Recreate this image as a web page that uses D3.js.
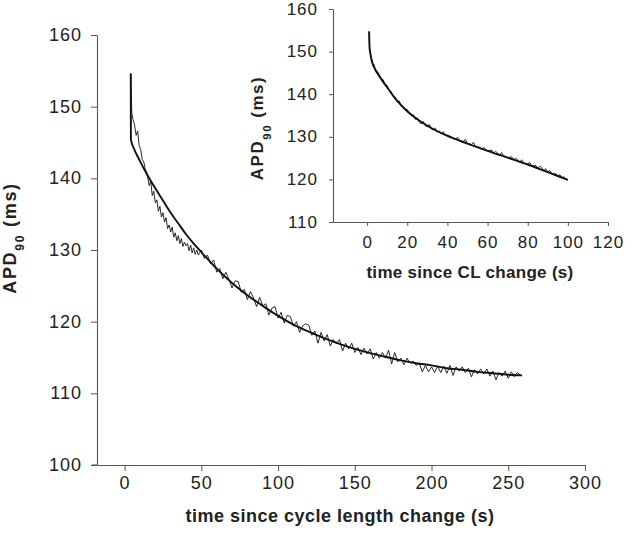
<!DOCTYPE html>
<html>
<head>
<meta charset="utf-8">
<script src="https://cdn.jsdelivr.net/npm/d3@7"></script>
<style>
  html, body { margin: 0; padding: 0; background: #fff; }
  svg { display: block; }
  .tick text { font-family: "Liberation Sans", Arial, sans-serif; fill: #222; }
</style>
</head>
<body>
<svg id="chart" width="640" height="534"></svg>
<script>
// ---------- data ----------
const mainXTicks = [0, 50, 100, 150, 200, 250, 300];
const mainYTicks = [100, 110, 120, 130, 140, 150, 160];
const insetXTicks = [0, 20, 40, 60, 80, 100, 120];
const insetYTicks = [110, 120, 130, 140, 150, 160];

// main panel: fitted curve (time s, APD90 ms)
const mainFitTime = [4, 4.1, 6, 10, 15, 20, 25, 30, 35, 40, 45, 50, 60, 70, 80, 90, 100, 110, 120, 130, 140, 150, 160, 170, 180, 190, 200, 210, 220, 230, 240, 250, 259];
const mainFitApd  = [154.6, 145.4, 144.2, 142.4, 140.4, 138.6, 136.9, 135.2, 133.7, 132.2, 130.9, 129.7, 127.4, 125.4, 123.7, 122.2, 120.8, 119.6, 118.6, 117.7, 116.9, 116.2, 115.6, 115.1, 114.6, 114.2, 113.9, 113.5, 113.3, 113.0, 112.8, 112.6, 112.5];

// main panel: measured trace
const mainDataTime = [4, 4.3, 4.7, 5.5, 6.5, 7.5, 8.5, 9.5, 10.5, 11.5, 12.5, 13.5, 14.5, 16, 17, 18, 19, 20, 21, 22, 23, 24, 25, 26, 27, 28, 29, 30, 31, 32, 33, 34, 35, 36, 37, 38, 39, 40, 41, 42, 43, 44, 45, 46, 47, 48,
  50, 52, 54, 56, 58, 60, 62, 64, 66, 68, 70, 72, 74, 76, 78, 80, 82, 84, 86, 88, 90, 92, 94, 96, 98, 100, 102, 104, 106, 108, 110, 112, 114, 116, 118, 120, 122, 124, 126, 128, 130, 132, 134, 136, 138, 140, 142, 144, 146, 148, 150, 152, 154, 156, 158, 160, 162, 164, 166, 168, 170, 172, 174, 176, 178, 180, 182, 184, 186, 188, 190, 192, 194, 196, 198, 200, 202, 204, 206, 208, 210, 212, 214, 216, 218, 220, 222, 224, 226, 228, 230, 232, 234, 236, 238, 240, 242, 244, 246, 248, 250, 252, 254, 256, 258];
const mainDataApd = [154.7, 151.5, 149.0, 148.2, 147.4, 146.0, 146.6, 144.6, 144.0, 142.6, 142.3, 141.2, 140.8, 139.0, 139.6, 137.6, 138.2, 136.6, 137.0, 135.4, 136.1, 134.6, 135.2, 133.9, 134.5, 133.0, 133.5, 132.5, 133.2, 131.8, 132.4, 131.3, 132.0, 130.9, 131.6, 130.5, 131.1, 130.6, 130.9, 129.9, 130.7, 129.6, 130.3, 129.4, 130.0, 129.3,
  130.0, 128.8, 129.3, 128.1, 128.6, 126.9, 127.4, 126.0, 126.9, 125.9, 124.7, 125.7, 125.6, 124.1, 124.5, 123.1, 124.2, 123.3, 122.1, 123.4, 122.2, 122.5, 120.9, 121.9, 122.1, 120.5, 121.3, 119.8, 120.9, 120.7, 119.4, 120.0, 118.5, 119.4, 119.7, 119.5, 118.1, 118.7, 117.0, 118.5, 117.3, 118.2, 116.6, 117.5, 116.9, 117.5, 115.9, 117.0, 116.2, 117.0, 115.7, 116.4, 115.4, 116.3, 115.5, 116.2, 114.8, 115.7, 114.9, 115.7, 114.9, 116.0, 114.1, 115.7, 114.4, 114.9, 114.0, 114.9, 114.2, 114.5, 113.9, 114.2, 113.0, 113.9, 113.0, 113.7, 112.9, 113.8, 112.9, 113.8, 112.8, 113.9, 112.5, 113.7, 113.1, 113.7, 112.9, 113.5, 112.3, 113.3, 112.7, 113.4, 112.7, 113.4, 112.4, 113.1, 111.9, 112.9, 112.4, 113.1, 112.1, 113.0, 112.3, 112.9, 112.5];

// inset panel: fitted curve
const insetFitTime = [1, 1.2, 1.6, 2.5, 4, 6, 8, 10, 13, 16, 20, 25, 30, 35, 40, 50, 60, 70, 80, 90, 100];
const insetFitApd  = [154.7, 151.0, 149.5, 147.5, 145.8, 144.3, 142.9, 141.6, 139.6, 137.9, 136.0, 134.1, 132.6, 131.3, 130.2, 128.4, 126.7, 125.1, 123.5, 121.7, 119.9];

// inset panel: measured trace
const insetDataTime = [1, 1.1, 1.3, 1.6, 2, 2.5, 3, 3.5, 4, 5, 6, 7, 8, 9, 10, 11, 12, 13, 14, 15, 16, 17, 18, 19, 20, 21, 22, 23, 24, 25, 26, 27, 28, 29, 30, 31, 32, 33, 34, 35, 36, 37, 38, 39, 40, 42, 44, 45, 46, 48, 49, 50, 52, 53, 54, 56, 57, 58, 60, 62, 63, 64, 66, 67, 68, 70, 72, 73, 74, 76, 77, 78, 80, 81, 82, 84, 85, 86, 87, 88, 89, 90, 91, 92, 94, 95, 96, 97, 98, 99, 100];
const insetDataApd  = [154.8, 152.5, 150.5, 150.0, 148.5, 148.0, 146.8, 147.0, 145.9, 145.4, 144.6, 143.5, 143.4, 142.2, 142.0, 140.8, 140.6, 139.5, 139.3, 138.2, 138.4, 137.2, 137.1, 136.2, 136.4, 135.5, 135.1, 135.2, 134.1, 134.5, 133.4, 133.0, 133.6, 132.6, 132.3, 132.9, 131.8, 131.6, 132.0, 131.1, 131.4, 130.7, 131.2, 130.3, 130.4, 130.0, 129.4, 129.9, 129.1, 128.9, 129.4, 128.4, 128.2, 128.7, 127.7, 127.6, 127.1, 127.5, 126.7, 126.9, 126.2, 126.6, 125.7, 126.3, 125.5, 125.1, 125.3, 124.6, 125.0, 124.1, 124.6, 123.8, 123.6, 124.0, 123.1, 123.3, 122.6, 123.1, 122.7, 122.1, 122.5, 121.7, 122.1, 121.3, 121.3, 120.8, 121.1, 120.4, 120.6, 120.1, 119.9];

// ---------- drawing ----------
const svg = d3.select("#chart");
svg.append("rect").attr("width", 640).attr("height", 534).attr("fill", "#fff");
const FONT = '"Liberation Sans", Arial, sans-serif';
const AXIS = "#555";
const INK = "#111";

function zip(a, b) { return a.map((v, i) => [v, b[i]]); }

function panel(cfg) {
  const x = d3.scaleLinear().domain(cfg.xDomain).range(cfg.xRange);
  const y = d3.scaleLinear().domain(cfg.yDomain).range(cfg.yRange);
  const g = svg.append("g");

  const xa = g.append("g").attr("transform", `translate(0,${cfg.yRange[0]})`)
    .call(d3.axisBottom(x).tickValues(cfg.xTicks).tickSize(cfg.tick).tickPadding(cfg.xPad).tickSizeOuter(0));
  const ya = g.append("g").attr("transform", `translate(${cfg.xRange[0]},0)`)
    .call(d3.axisLeft(y).tickValues(cfg.yTicks).tickSize(cfg.tick).tickPadding(cfg.yPad).tickSizeOuter(0));
  [xa, ya].forEach(a => {
    a.select(".domain").attr("stroke", AXIS).attr("stroke-width", 1.1);
    a.selectAll(".tick line").attr("stroke", AXIS).attr("stroke-width", 1);
    a.selectAll(".tick text").style("font-size", cfg.fs + "px").style("letter-spacing", cfg.ls + "px");
  });
  ya.selectAll(".tick text").attr("dy", "0.3em");

  // small extension of the x axis line to the left of the y axis
  g.append("line").attr("x1", cfg.xRange[0] - cfg.ext).attr("x2", cfg.xRange[0])
    .attr("y1", cfg.yRange[0]).attr("y2", cfg.yRange[0]).attr("stroke", AXIS).attr("stroke-width", 1.1);

  const lineLin = d3.line().x(d => x(d[0])).y(d => y(d[1]));
  const lineFit = d3.line().x(d => x(d[0])).y(d => y(d[1])).curve(d3.curveMonotoneX);

  g.append("path").datum(zip(cfg.dataT, cfg.dataV)).attr("d", lineLin)
    .attr("fill", "none").attr("stroke", INK).attr("stroke-width", 0.9).attr("stroke-linejoin", "round");
  g.append("path").datum(zip(cfg.fitT, cfg.fitV)).attr("d", lineFit)
    .attr("fill", "none").attr("stroke", INK).attr("stroke-width", 1.9).attr("stroke-linejoin", "round");

  // x title
  g.append("text").attr("x", cfg.xt[0]).attr("y", cfg.xt[1]).attr("text-anchor", "middle")
    .style("font-family", FONT).style("font-weight", "bold").style("font-size", cfg.tfs + "px")
    .style("letter-spacing", cfg.tls + "px").attr("fill", "#222").text(cfg.xTitle);

  // y title with subscript
  const yt = g.append("text").attr("transform", `translate(${cfg.yt[0]},${cfg.yt[1]}) rotate(-90)`)
    .attr("text-anchor", "middle")
    .style("font-family", FONT).style("font-weight", "bold").style("font-size", cfg.tfs + "px")
    .style("letter-spacing", cfg.tls + 1.2 + "px").attr("fill", "#222");
  yt.append("tspan").text("APD");
  yt.append("tspan").attr("dy", 8).style("font-size", (cfg.tfs * 0.68) + "px").text("90");
  yt.append("tspan").attr("dy", -8).text(" (ms)");
}

panel({
  xDomain: [-18, 300], xRange: [97, 585],
  yDomain: [100, 160], yRange: [465, 35],
  xTicks: mainXTicks, yTicks: mainYTicks,
  tick: 6, xPad: 5, yPad: 9, fs: 18, ls: 1, ext: 5,
  fitT: mainFitTime, fitV: mainFitApd, dataT: mainDataTime, dataV: mainDataApd,
  xTitle: "time since cycle length change (s)", xt: [340, 522],
  yt: [16, 238], tfs: 18, tls: 0.5
});

panel({
  xDomain: [-17, 120], xRange: [333, 608],
  yDomain: [110, 160], yRange: [222, 9],
  xTicks: insetXTicks, yTicks: insetYTicks,
  tick: 4, xPad: 10, yPad: 11, fs: 17, ls: 1, ext: 0,
  fitT: insetFitTime, fitV: insetFitApd, dataT: insetDataTime, dataV: insetDataApd,
  xTitle: "time since CL change (s)", xt: [470, 278],
  yt: [263, 128], tfs: 17, tls: 0.3
});
</script>
</body>
</html>
